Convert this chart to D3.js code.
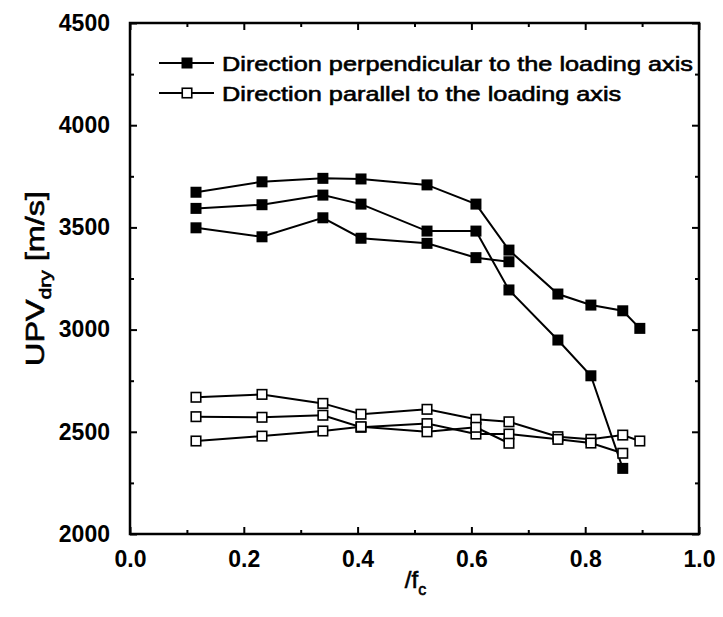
<!DOCTYPE html>
<html><head><meta charset="utf-8">
<script src="https://cdn.jsdelivr.net/npm/d3@7"></script>
<style>body{margin:0;background:#fff}svg{display:block}text{font-family:"Liberation Sans",Arial,sans-serif}</style>
</head><body>
<script>
const xValues = [0.116, 0.232, 0.339, 0.406, 0.522, 0.608, 0.666, 0.752, 0.810, 0.866, 0.896];
const perpA = [3672, 3723, 3740, 3737, 3708, 3614, 3389, 3174, 3120, 3092, 3006];
const perpB = [3593, 3611, 3658, 3614, 3482, 3482, 3194, 2949, 2774, 2321];
const perpC = [3498, 3454, 3547, 3447, 3422, 3352, 3332];
const paraA = [2669, 2683, 2639, 2586, 2610, 2561, 2549, 2476, 2463, 2484, 2455];
const paraB = [2574, 2571, 2581, 2522, 2540, 2489, 2489, 2463, 2445, 2395];
const paraC = [2455, 2479, 2504, 2525, 2500, 2522, 2444];
const xTicks = [0.0, 0.2, 0.4, 0.6, 0.8, 1.0];
const yTicks = [2000, 2500, 3000, 3500, 4000, 4500];
const legendLabels = ["Direction perpendicular to the loading axis", "Direction parallel to the loading axis"];

const W = 723, H = 617;
const L = 130, R = 699, T = 23, B = 534;
const svg = d3.select("body").append("svg").attr("width", W).attr("height", H);
const x = d3.scaleLinear().domain([0, 1]).range([L, R]);
const y = d3.scaleLinear().domain([2000, 4500]).range([B, T]);

const series = [
  {vals: perpA, filled: true}, {vals: perpB, filled: true}, {vals: perpC, filled: true},
  {vals: paraA, filled: false}, {vals: paraB, filled: false}, {vals: paraC, filled: false}
];
const line = d3.line().x(d => x(d[0])).y(d => y(d[1]));
const ms = 11;
series.forEach(s => {
  const pts = s.vals.map((v, i) => [xValues[i], v]);
  svg.append("path").attr("d", line(pts)).attr("fill", "none").attr("stroke", "#000").attr("stroke-width", 2);
});
series.forEach(s => {
  const pts = s.vals.map((v, i) => [xValues[i], v]);
  const sz = s.filled ? ms : ms - 1.5;
  svg.append("g").selectAll("rect").data(pts).join("rect")
    .attr("x", d => x(d[0]) - sz / 2)
    .attr("y", d => y(d[1]) - sz / 2)
    .attr("width", sz).attr("height", sz)
    .attr("fill", s.filled ? "#000" : "#fff")
    .attr("stroke", "#000").attr("stroke-width", s.filled ? 0 : 1.6);
});

// axes
const tickFont = g => g.selectAll("text").style("font-family", '"Liberation Sans",Arial,sans-serif')
  .style("font-size", "23px").style("font-weight", "bold").attr("fill", "#000");
const xMinor = d3.range(0.1, 1, 0.2);
const yMinor = d3.range(2250, 4500, 500);
const clean = g => { g.select(".domain").remove(); g.selectAll("line").attr("stroke-width", 2); };

const gx = svg.append("g").attr("transform", `translate(0,${B})`)
  .call(d3.axisBottom(x).tickValues(xTicks).tickFormat(d3.format(".1f")).tickSizeInner(-7).tickSizeOuter(0).tickPadding(17));
gx.call(tickFont); clean(gx);
clean(svg.append("g").attr("transform", `translate(0,${B})`)
  .call(d3.axisBottom(x).tickValues(xMinor).tickFormat("").tickSizeInner(-4).tickSizeOuter(0)));

const gy = svg.append("g").attr("transform", `translate(${L},0)`)
  .call(d3.axisLeft(y).tickValues(yTicks).tickFormat(d3.format("d")).tickSizeInner(-7).tickSizeOuter(0).tickPadding(20));
gy.call(tickFont); clean(gy);
clean(svg.append("g").attr("transform", `translate(${L},0)`)
  .call(d3.axisLeft(y).tickValues(yMinor).tickFormat("").tickSizeInner(-4).tickSizeOuter(0)));

// mirror ticks top/right
clean(svg.append("g").attr("transform", `translate(0,${T})`)
  .call(d3.axisTop(x).tickValues(xTicks).tickFormat("").tickSizeInner(-7).tickSizeOuter(0)));
clean(svg.append("g").attr("transform", `translate(0,${T})`)
  .call(d3.axisTop(x).tickValues(xMinor).tickFormat("").tickSizeInner(-4).tickSizeOuter(0)));
clean(svg.append("g").attr("transform", `translate(${R},0)`)
  .call(d3.axisRight(y).tickValues(yTicks).tickFormat("").tickSizeInner(-7).tickSizeOuter(0)));
clean(svg.append("g").attr("transform", `translate(${R},0)`)
  .call(d3.axisRight(y).tickValues(yMinor).tickFormat("").tickSizeInner(-4).tickSizeOuter(0)));

svg.append("rect").attr("x", L).attr("y", T).attr("width", R - L).attr("height", B - T)
  .attr("fill", "none").attr("stroke", "#000").attr("stroke-width", 2.5);

// legend
let stretch = null;
legendLabels.forEach((lab, i) => {
  const ly = 63 + i * 30;
  const g = svg.append("g");
  g.append("line").attr("x1", 159).attr("x2", 214).attr("y1", ly).attr("y2", ly).attr("stroke", "#000").attr("stroke-width", 2);
  const s = i === 0 ? 11 : 9.5;
  g.append("rect").attr("x", 187 - s / 2).attr("y", ly - s / 2).attr("width", s).attr("height", s)
    .attr("fill", i === 0 ? "#000" : "#fff").attr("stroke", "#000").attr("stroke-width", i === 0 ? 0 : 1.6);
  const t = g.append("text").attr("x", 222).attr("y", ly + 7.5).attr("font-size", "21px")
    .attr("stroke", "#000").attr("stroke-width", 0.6).text(lab);
  const len = t.node().getComputedTextLength();
  if (stretch === null) stretch = 471 / len;
  t.attr("textLength", len * stretch).attr("lengthAdjust", "spacingAndGlyphs");
});

// axis titles
const ytg = svg.append("g");
const yt = ytg.append("text").attr("text-anchor", "middle").attr("font-size", "25px")
  .attr("stroke", "#000").attr("stroke-width", 0.6);
yt.append("tspan").text("UPV");
yt.append("tspan").attr("font-size", "16px").attr("dy", 7).text("dry");
yt.append("tspan").attr("dy", -7).text(" [m/s]");
const ylen = yt.node().getBBox().width;
ytg.attr("transform", `translate(44,${(T + B) / 2}) rotate(-90) scale(${175 / ylen},1)`);

const xt = svg.append("text").attr("x", (L + R) / 2 + 1).attr("y", 588)
  .attr("text-anchor", "middle").attr("font-size", "24px").attr("stroke", "#000").attr("stroke-width", 0.6);
xt.append("tspan").text("/f");
xt.append("tspan").attr("font-size", "16px").attr("dy", 7).text("c");
</script>
</body></html>
